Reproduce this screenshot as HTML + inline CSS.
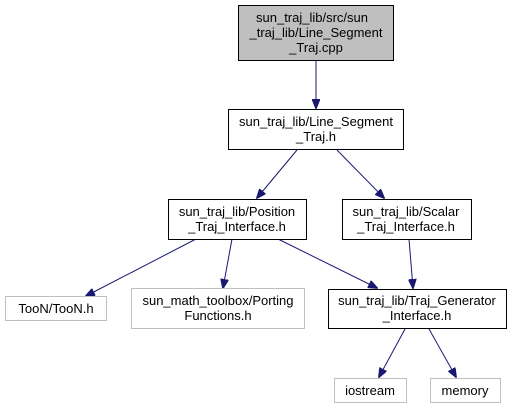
<!DOCTYPE html>
<html><head><style>body{margin:0;background:#fff}svg{display:block}</style></head><body>
<svg width="512" height="409" viewBox="0 0 512 409" xmlns="http://www.w3.org/2000/svg" font-family="Liberation Sans, sans-serif" font-size="13">
<defs><marker id="a" markerWidth="10" markerHeight="8" refX="9" refY="4" orient="auto" markerUnits="userSpaceOnUse"><path d="M0,0 L10,4 L0,8 z" fill="#191970" stroke="#191970"/></marker></defs>
<g stroke="#191970" stroke-width="1" fill="none" marker-end="url(#a)">
<line x1="316" y1="61" x2="316" y2="108"/>
<line x1="297" y1="150" x2="257" y2="198"/>
<line x1="337" y1="150" x2="384" y2="198"/>
<line x1="196" y1="239" x2="86" y2="296"/>
<line x1="232" y1="239" x2="223" y2="288"/>
<line x1="278" y1="239" x2="377" y2="288"/>
<line x1="409" y1="239" x2="413" y2="288"/>
<line x1="405" y1="329" x2="379" y2="377"/>
<line x1="429" y1="329" x2="456" y2="377"/>
</g>
<g stroke="#000" stroke-width="1">
<rect x="238.5" y="5.5" width="155" height="55" fill="#bfbfbf"/>
<rect x="228.5" y="109.5" width="175" height="40" fill="#fff"/>
<rect x="168.5" y="199.5" width="138" height="40" fill="#fff"/>
<rect x="342.5" y="199.5" width="129" height="40" fill="#fff"/>
<rect x="328.5" y="289.5" width="178" height="39" fill="#fff"/>
</g>
<g stroke="#bfbfbf" stroke-width="1" fill="#fff">
<rect x="5.5" y="296.5" width="101" height="24"/>
<rect x="131.5" y="288.5" width="173" height="40"/>
<rect x="334.5" y="378.5" width="72" height="24"/>
<rect x="430.5" y="378.5" width="70" height="24"/>
</g>
<g fill="#000" text-anchor="middle">
<text x="312" y="22">sun_traj_lib/src/sun</text>
<text x="316" y="37">_traj_lib/Line_Segment</text>
<text x="316" y="52">_Traj.cpp</text>
<text x="316" y="126">sun_traj_lib/Line_Segment</text>
<text x="316" y="141">_Traj.h</text>
<text x="237" y="216">sun_traj_lib/Position</text>
<text x="237" y="231">_Traj_Interface.h</text>
<text x="406" y="216">sun_traj_lib/Scalar</text>
<text x="406" y="231">_Traj_Interface.h</text>
<text x="56" y="313">TooN/TooN.h</text>
<text x="218" y="305">sun_math_toolbox/Porting</text>
<text x="218" y="320">Functions.h</text>
<text x="417" y="305">sun_traj_lib/Traj_Generator</text>
<text x="417" y="320">_Interface.h</text>
<text x="370" y="395">iostream</text>
<text x="465" y="395">memory</text>
</g>
</svg>
</body></html>
